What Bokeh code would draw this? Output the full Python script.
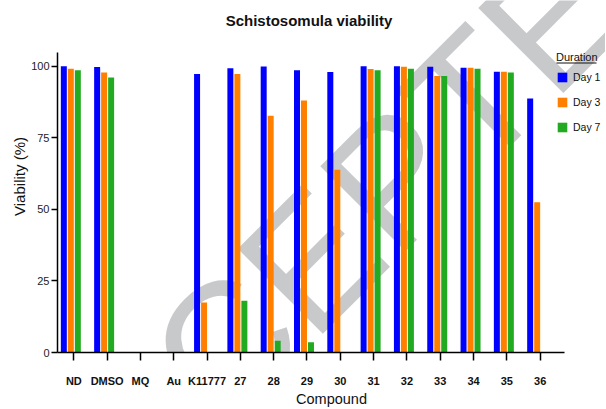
import math
from bokeh.plotting import figure
from bokeh.models import (ColumnDataSource, FixedTicker, Legend, LegendItem, Label, Range1d)
from bokeh.transform import dodge
from bokeh.embed import file_html
from bokeh.resources import INLINE

# ---- data ----
compounds = ["ND", "DMSO", "MQ", "Au", "K11777", "27", "28", "29", "30",
             "31", "32", "33", "34", "35", "36"]
day1 = [100.0, 99.7, 0, 0, 97.3, 99.3, 99.9, 98.6, 98.0, 100.0, 100.0, 99.8, 99.5, 98.1, 88.7]
day3 = [99.1, 97.8, 0, 0, 17.5, 97.3, 82.7, 88.0, 63.8, 99.0, 99.8, 96.6, 99.5, 98.1, 52.5]
day7 = [98.6, 96.1, 0, 0, 0, 18.1, 4.1, 3.6, 0, 98.6, 99.1, 96.6, 99.1, 97.8, 0]
series_names = ["Day 1", "Day 3", "Day 7"]
y_ticks = [0, 25, 50, 75, 100]

colors = ["#0000ff", "#ff8000", "#22aa22"]
FONT = "Liberation Sans"

# ---- layout constants ----
LEFT = 57            # frame left (px)
FRAME_W = 548
FRAME_H = 352        # frame from top of canvas down to the x axis
X0, X_AXIS_END = -0.49, 14.73
PX_PER_X = 33.31
Y_AXIS_TOP = 104.8
PX_PER_Y = 2.8626
x_end = X0 + FRAME_W / PX_PER_X
y_end = FRAME_H / PX_PER_Y

src = ColumnDataSource(dict(idx=list(range(len(compounds))),
                            day1=day1, day3=day3, day7=day7))

p = figure(frame_width=FRAME_W, frame_height=FRAME_H,
           min_border_left=LEFT, min_border_right=0, min_border_top=0, min_border_bottom=50,
           x_range=Range1d(X0, x_end), y_range=Range1d(0, y_end),
           output_backend="svg", toolbar_location=None)

p.xgrid.visible = False
p.ygrid.visible = False
p.outline_line_color = None
p.background_fill_color = "white"
p.border_fill_color = "white"

# watermark (behind the bars)
wm = Label(x=288, y=127, x_units="screen", y_units="screen", text="ACCEPTED",
           angle=math.pi / 4, text_font=FONT, text_font_size="175px",
           text_color="#c8c9cb", text_align="center", text_baseline="middle",
           level="underlay")
p.add_layout(wm)

title = Label(x=251.5, y=332, x_units="screen", y_units="screen",
              text="Schistosomula viability", text_font=FONT, text_font_size="15px",
              text_font_style="bold", text_color="#111111",
              text_align="center", text_baseline="alphabetic")
p.add_layout(title)

offsets = [-0.30, -0.09, 0.12]
fields = ["day1", "day3", "day7"]
renderers = []
for f, off, c in zip(fields, offsets, colors):
    r = p.vbar(x=dodge("idx", off), top=f, bottom=0, width=0.18, source=src,
               fill_color=c, line_color=None)
    renderers.append(r)

# axes
xa = p.xaxis[0]
xa.bounds = (X0, X_AXIS_END)
xa.ticker = FixedTicker(ticks=list(range(len(compounds))))
xa.major_label_overrides = {i: c for i, c in enumerate(compounds)}
xa.major_label_text_font = FONT
xa.major_label_text_font_size = "11px"
xa.major_label_text_font_style = "bold"
xa.major_label_text_color = "#111111"
xa.major_label_standoff = 14
xa.major_tick_out = 8
xa.major_tick_in = 0
xa.minor_tick_line_color = None
xa.axis_line_width = 1.5
xa.major_tick_line_width = 1.5
xa.axis_label = "Compound"
xa.axis_label_text_font = FONT
xa.axis_label_text_font_size = "14.5px"
xa.axis_label_text_font_style = "normal"
xa.axis_label_text_color = "#111111"
xa.axis_label_standoff = 1

ya = p.yaxis[0]
ya.bounds = (0, Y_AXIS_TOP)
ya.ticker = FixedTicker(ticks=y_ticks)
ya.major_label_text_font = FONT
ya.major_label_text_font_size = "11px"
ya.major_label_text_color = "#222222"
ya.major_label_standoff = 2
ya.major_tick_out = 6
ya.major_tick_in = 0
ya.minor_tick_line_color = None
ya.axis_line_width = 1.5
ya.major_tick_line_width = 1.5
ya.axis_label = "Viability (%)"
ya.axis_label_text_font = FONT
ya.axis_label_text_font_size = "15px"
ya.axis_label_text_font_style = "normal"
ya.axis_label_text_color = "#111111"
ya.axis_label_standoff = 0

legend = Legend(items=[LegendItem(label=n, renderers=[r]) for n, r in zip(series_names, renderers)],
                location=(499, 219), title="Duration",
                padding=0, margin=0, border_line_color=None, background_fill_alpha=0,
                glyph_width=12, glyph_height=12, label_height=12, spacing=13,
                label_standoff=5, label_text_font=FONT, label_text_font_size="10.5px",
                label_text_color="#111111",
                title_text_font=FONT, title_text_font_size="11px",
                title_text_font_style="normal", title_text_color="#111111",
                title_standoff=8)
p.add_layout(legend)

# underline of the legend title (pixel position converted through the frame mapping)
ul_px = (556, 596, 62.5)
ul_x0 = X0 + (ul_px[0] - LEFT) / PX_PER_X
ul_x1 = X0 + (ul_px[1] - LEFT) / PX_PER_X
ul_y = (FRAME_H - ul_px[2]) / PX_PER_Y
p.segment(x0=[ul_x0], y0=[ul_y], x1=[ul_x1], y1=[ul_y], line_color="#111111", line_width=1)

open("out.html", "w").write(file_html(p, INLINE))
